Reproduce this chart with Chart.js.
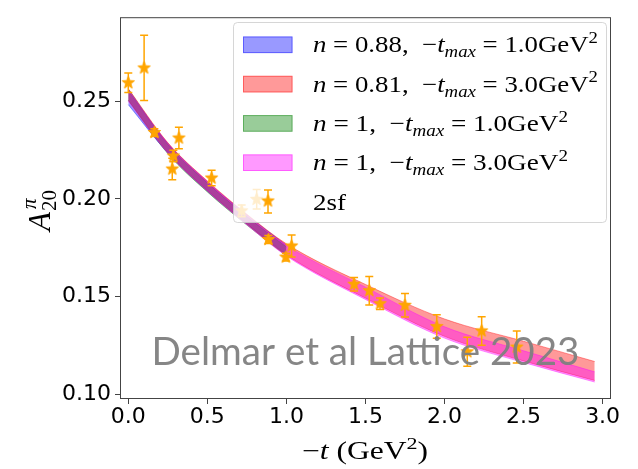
<!DOCTYPE html>
<html>
<head>
<meta charset="utf-8">
<script src="https://cdn.jsdelivr.net/npm/chart.js@4.4.0/dist/chart.umd.min.js"></script>
<style>
  html, body { margin: 0; padding: 0; background: #fff; }
</style>
</head>
<body>
<canvas id="chart" width="638" height="469"></canvas>
<script>
// 2sf lattice data: -t (GeV^2), A20 and its error
const tPoints   = [0.00, 0.10, 0.165, 0.278, 0.285, 0.32, 0.527, 0.717, 0.812, 0.886, 0.997, 1.033, 1.428, 1.524, 1.592, 1.750, 1.951, 2.144, 2.235, 2.457];
const a20Points = [0.2595, 0.2671, 0.2340, 0.2153, 0.2220, 0.2312, 0.2107, 0.1939, 0.1998, 0.1792, 0.1702, 0.1759, 0.1563, 0.1530, 0.1463, 0.1455, 0.1346, 0.1217, 0.1324, 0.1241];
const a20Errors = [0.0050, 0.0167, 0.0020, 0.0055, 0.0030, 0.0055, 0.0040, 0.0030, 0.0050, 0.0020, 0.0020, 0.0056, 0.0035, 0.0073, 0.0030, 0.0060, 0.0060, 0.0074, 0.0073, 0.0082];

// fit bands, -t_max = 1.0 fits stop at 1.0, -t_max = 3.0 fits run further
const tShort = [0, 0.25, 0.5, 0.75, 1.0];
const tLong  = [0, 0.25, 0.5, 0.75, 1.0, 1.5, 2.0, 2.5, 2.95];

const blueLo  = [0.2483, 0.2235, 0.2040, 0.1872, 0.1715];
const blueHi  = [0.2555, 0.2285, 0.2088, 0.1918, 0.1763];
const greenLo = [0.2505, 0.2232, 0.2036, 0.1866, 0.1708];
const greenHi = [0.2562, 0.2280, 0.2082, 0.1910, 0.1754];
const redLo   = [0.2505, 0.2238, 0.2043, 0.1872, 0.1713, 0.1492, 0.1296, 0.1170, 0.1070];
const redHi   = [0.2565, 0.2288, 0.2092, 0.1922, 0.1770, 0.1562, 0.1385, 0.1271, 0.1167];
const magLo   = [0.2500, 0.2235, 0.2040, 0.1868, 0.1708, 0.1485, 0.1287, 0.1162, 0.1062];
const magHi   = [0.2560, 0.2283, 0.2087, 0.1915, 0.1762, 0.1548, 0.1345, 0.1222, 0.1114];

const xTicks = [0, 0.5, 1.0, 1.5, 2.0, 2.5, 3.0];
const yTicks = [0.10, 0.15, 0.20, 0.25];

const ORANGE = '#ffa500';
const BLUE = 'rgba(0,0,255,0.4)';
const RED = 'rgba(255,0,0,0.4)';
const GREEN = 'rgba(0,128,0,0.4)';
const MAGENTA = 'rgba(255,0,255,0.4)';
const SERIF = '"Liberation Serif", "DejaVu Serif", serif';

// filled five point star used as the marker
function makeStar(r, color) {
  const c = document.createElement('canvas');
  const s = Math.ceil(r * 2 + 4);
  c.width = s; c.height = s;
  const g = c.getContext('2d');
  g.translate(s / 2, s / 2);
  g.beginPath();
  for (let k = 0; k < 10; k++) {
    const rad = k % 2 === 0 ? r : r * 0.42;
    const a = -Math.PI / 2 + k * Math.PI / 5;
    g.lineTo(rad * Math.cos(a), rad * Math.sin(a));
  }
  g.closePath();
  g.fillStyle = color;
  g.strokeStyle = color;
  g.lineWidth = 1;
  g.fill();
  g.stroke();
  return c;
}
const starImg = makeStar(6.5, ORANGE);

function pts(xs, ys) { return xs.map((x, i) => ({ x: x, y: ys[i] })); }

function band(xs, lo, hi, color, order) {
  const common = {
    type: 'scatter', showLine: true, borderColor: color, borderWidth: 1,
    pointRadius: 0, cubicInterpolationMode: 'monotone', order: order
  };
  return [
    Object.assign({ data: pts(xs, lo), fill: false }, common),
    Object.assign({ data: pts(xs, hi), fill: '-1', backgroundColor: color }, common)
  ];
}

// text with italic / sub / sup pieces, squeezed or stretched to a given width
function richWidth(ctx, parts, size) {
  let w = 0;
  for (const p of parts) {
    const fs = (p.sub || p.sup) ? size * 0.7 : size;
    ctx.font = (p.i ? 'italic ' : '') + fs + 'px ' + SERIF;
    w += ctx.measureText(p.t).width;
  }
  return w;
}
function drawRich(ctx, parts, x, y, size, width) {
  const natural = richWidth(ctx, parts, size);
  const sx = width ? width / natural : 1;
  ctx.save();
  ctx.translate(x, y);
  ctx.scale(sx, 1);
  let cx = 0;
  for (const p of parts) {
    let fs = size, dy = 0;
    if (p.sub) { fs = size * 0.7; dy = size * 0.22; }
    if (p.sup) { fs = size * 0.7; dy = -size * 0.4; }
    ctx.font = (p.i ? 'italic ' : '') + fs + 'px ' + SERIF;
    ctx.fillText(p.t, cx, dy);
    cx += ctx.measureText(p.t).width;
  }
  ctx.restore();
}

const errorBars = {
  id: 'errorBars',
  beforeDatasetDraw(chart, args) {
    if (args.index !== 0) return;
    const { ctx, scales: { x, y } } = chart;
    ctx.save();
    ctx.strokeStyle = ORANGE;
    ctx.lineWidth = 1.5;
    tPoints.forEach((t, i) => {
      const px = x.getPixelForValue(t);
      const top = y.getPixelForValue(a20Points[i] + a20Errors[i]);
      const bot = y.getPixelForValue(a20Points[i] - a20Errors[i]);
      ctx.beginPath();
      ctx.moveTo(px, top); ctx.lineTo(px, bot);
      ctx.moveTo(px - 4, top); ctx.lineTo(px + 4, top);
      ctx.moveTo(px - 4, bot); ctx.lineTo(px + 4, bot);
      ctx.stroke();
    });
    ctx.restore();
  }
};

const legendEntries = [
  { color: BLUE, width: 285, parts: [{ t: 'n', i: true }, { t: ' = 0.88,  \u2212' }, { t: 't', i: true }, { t: 'max', i: true, sub: true }, { t: ' = 1.0GeV' }, { t: '2', sup: true }] },
  { color: RED, width: 285, parts: [{ t: 'n', i: true }, { t: ' = 0.81,  \u2212' }, { t: 't', i: true }, { t: 'max', i: true, sub: true }, { t: ' = 3.0GeV' }, { t: '2', sup: true }] },
  { color: GREEN, width: 255, parts: [{ t: 'n', i: true }, { t: ' = 1,  \u2212' }, { t: 't', i: true }, { t: 'max', i: true, sub: true }, { t: ' = 1.0GeV' }, { t: '2', sup: true }] },
  { color: MAGENTA, width: 255, parts: [{ t: 'n', i: true }, { t: ' = 1,  \u2212' }, { t: 't', i: true }, { t: 'max', i: true, sub: true }, { t: ' = 3.0GeV' }, { t: '2', sup: true }] },
  { star: true, width: 33, parts: [{ t: '2sf' }] }
];

function roundRect(ctx, x, y, w, h, r) {
  ctx.beginPath();
  ctx.moveTo(x + r, y);
  ctx.arcTo(x + w, y, x + w, y + h, r);
  ctx.arcTo(x + w, y + h, x, y + h, r);
  ctx.arcTo(x, y + h, x, y, r);
  ctx.arcTo(x, y, x + w, y, r);
  ctx.closePath();
}

const decorations = {
  id: 'decorations',
  afterDatasetsDraw(chart) {
    const ctx = chart.ctx;
    const a = chart.chartArea;
    ctx.save();
    // legend box
    roundRect(ctx, 233.5, 22.5, 373, 200, 4);
    ctx.fillStyle = 'rgba(255,255,255,0.8)';
    ctx.fill();
    ctx.strokeStyle = 'rgba(204,204,204,0.8)';
    ctx.lineWidth = 1;
    ctx.stroke();
    ctx.textBaseline = 'alphabetic';
    legendEntries.forEach((e, k) => {
      const cy = 44.8 + k * 39.3;
      if (e.star) {
        ctx.strokeStyle = ORANGE;
        ctx.lineWidth = 1.5;
        ctx.beginPath();
        ctx.moveTo(268, cy - 12); ctx.lineTo(268, cy + 11);
        ctx.moveTo(264, cy - 12); ctx.lineTo(272, cy - 12);
        ctx.moveTo(264, cy + 11); ctx.lineTo(272, cy + 11);
        ctx.stroke();
        ctx.drawImage(starImg, 268 - starImg.width / 2, cy - 1 - starImg.height / 2);
      } else {
        ctx.fillStyle = e.color;
        ctx.fillRect(243, cy - 8.3, 49.5, 16.6);
        ctx.strokeStyle = e.color;
        ctx.lineWidth = 1;
        ctx.strokeRect(243.5, cy - 7.8, 48.5, 15.6);
      }
      ctx.fillStyle = '#000';
      drawRich(ctx, e.parts, 313, cy + 7.5, 23, e.width);
    });

    // frame
    ctx.strokeStyle = '#444';
    ctx.lineWidth = 1;
    ctx.strokeRect(a.left + 0.5, a.top + 0.5, a.right - a.left - 1, a.bottom - a.top - 1);

    // axis titles
    ctx.fillStyle = '#000';
    ctx.textAlign = 'left';
    const xParts = [{ t: '\u2212' }, { t: 't', i: true }, { t: ' (GeV' }, { t: '2', sup: true }, { t: ')' }];
    drawRich(ctx, xParts, 302, 459, 25, 126);

    ctx.save();
    ctx.translate(50, 231);
    ctx.rotate(-Math.PI / 2);
    ctx.font = 'italic 31px ' + SERIF;
    ctx.fillText('A', 0, 0);
    const wa = ctx.measureText('A').width;
    ctx.font = '21px ' + SERIF;
    ctx.fillText('20', wa + 1, 6);
    ctx.font = 'italic 21px ' + SERIF;
    ctx.fillText('\u03c0', wa + 3, -14);
    ctx.restore();

    ctx.restore();
  },
  afterDraw(chart) {
    const ctx = chart.ctx;
    ctx.save();
    ctx.fillStyle = 'rgba(128,128,128,0.95)';
    ctx.font = '38px Lato, "Open Sans", sans-serif';
    ctx.textBaseline = 'alphabetic';
    const label = 'Delmar et al Lattice 2023';
    const tw = ctx.measureText(label).width;
    ctx.translate(151.5, 365);
    ctx.scale(428 / tw, 1);
    ctx.fillText(label, 0, 0);
    ctx.restore();
  }
};

const datasets = [
  {
    type: 'scatter',
    data: pts(tPoints, a20Points),
    pointStyle: starImg,
    pointRadius: 6,
    showLine: false,
    order: 0
  }
].concat(
  band(tShort, blueLo, blueHi, BLUE, 4),
  band(tLong, redLo, redHi, RED, 3),
  band(tShort, greenLo, greenHi, GREEN, 2),
  band(tLong, magLo, magHi, MAGENTA, 1)
);

const tickFont = { family: '"DejaVu Sans", sans-serif', size: 22 };

new Chart(document.getElementById('chart'), {
  type: 'scatter',
  data: { datasets: datasets },
  options: {
    responsive: false,
    animation: false,
    devicePixelRatio: 1,
    layout: { padding: { top: 9, right: 27, left: 0, bottom: 0 } },
    plugins: { legend: { display: false }, tooltip: { enabled: false } },
    scales: {
      x: {
        type: 'linear',
        min: -0.0525,
        max: 3.053,
        afterFit: s => { s.height = 70; },
        afterBuildTicks: s => { s.ticks = xTicks.map(v => ({ value: v })); },
        ticks: { font: tickFont, color: '#000', padding: 0, callback: v => v.toFixed(1) },
        grid: { drawOnChartArea: false, drawTicks: true, tickLength: 5, color: '#444' },
        border: { display: false }
      },
      y: {
        type: 'linear',
        min: 0.0975,
        max: 0.2931,
        afterFit: s => { s.width = 120; },
        afterBuildTicks: s => { s.ticks = yTicks.map(v => ({ value: v })); },
        ticks: { font: tickFont, color: '#000', padding: 4, callback: v => v.toFixed(2) },
        grid: { drawOnChartArea: false, drawTicks: true, tickLength: 5, color: '#444' },
        border: { display: false }
      }
    }
  },
  plugins: [errorBars, decorations]
});
</script>
</body>
</html>
